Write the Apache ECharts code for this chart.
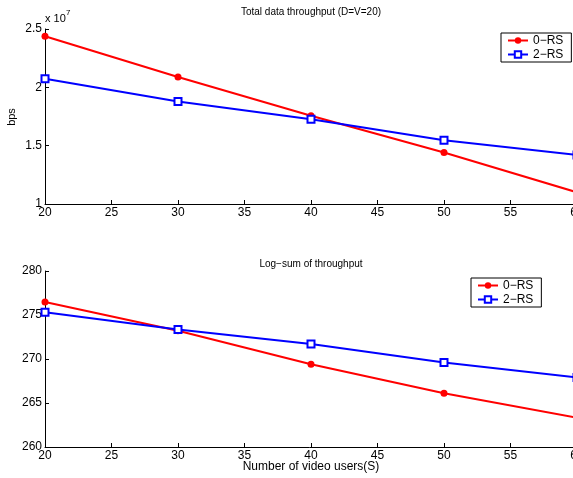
<!DOCTYPE html>
<html>
<head>
<meta charset="utf-8">
<script src="https://cdn.jsdelivr.net/npm/echarts@6/dist/echarts.min.js"></script>
<style>
html,body{margin:0;padding:0;background:#fff;}
#chart{width:573px;height:478px;}
</style>
</head>
<body>
<div id="chart"></div>
<script>
// Data
const users = [20, 30, 40, 50, 60];
// Total data throughput, in units of 1e7 bps
const throughput0RS = [2.438, 2.088, 1.757, 1.441, 1.100];
const throughput2RS = [2.073, 1.878, 1.726, 1.547, 1.421];
// Log-sum of throughput
const logsum0RS = [276.48, 273.20, 269.40, 266.10, 263.33];
const logsum2RS = [275.30, 273.34, 271.70, 269.60, 267.90];
const seriesNames = ['0\u2212RS', '2\u2212RS'];
const topTitle = 'Total data throughput (D=V=20)';
const bottomTitle = 'Log\u2212sum of throughput';
const xLabel = 'Number of video users(S)';
const yLabelTop = 'bps';

const FONT = 'Liberation Sans, Arial, Helvetica, sans-serif';
const pairs = (ys) => users.map((x, i) => [x, ys[i]]);

const chart = echarts.init(document.getElementById('chart'), null, {renderer: 'canvas'});

function xAxisCfg(gridIndex) {
  return {
    gridIndex, type: 'value', min: 20, max: 60, interval: 5,
    axisLine: {show: true, lineStyle: {color: '#000', width: 1}},
    axisTick: {show: true, inside: true, length: 4, lineStyle: {color: '#000'}},
    axisLabel: {color: '#000', fontSize: 12, fontFamily: FONT, margin: 3, hideOverlap: false},
    splitLine: {show: false}
  };
}
function yAxisCfg(gridIndex, min, max, interval) {
  return {
    gridIndex, type: 'value', min, max, interval,
    axisLine: {show: true, lineStyle: {color: '#000', width: 1}},
    axisTick: {show: true, inside: true, length: 4, lineStyle: {color: '#000'}},
    axisLabel: {color: '#000', fontSize: 12, fontFamily: FONT, margin: 3},
    splitLine: {show: false}
  };
}
function lineSeries(name, data, xi, color, symbol) {
  return {
    name, type: 'line', xAxisIndex: xi, yAxisIndex: xi, data,
    symbol, symbolSize: 7, showSymbol: true,
    lineStyle: {color, width: 2},
    itemStyle: {color, borderColor: color, borderWidth: symbol === 'emptyRect' ? 2 : 0},
    animation: false
  };
}
function legendCfg(left, top) {
  return {
    data: seriesNames, orient: 'vertical', left, top,
    backgroundColor: '#fff', borderColor: '#000', borderWidth: 1,
    padding: [1, 8, 1, 6], itemGap: 1, itemWidth: 20, itemHeight: 8,
    textStyle: {color: '#000', fontSize: 12, fontFamily: FONT, lineHeight: 13},
    selectedMode: false
  };
}

chart.setOption({
  animation: false,
  backgroundColor: '#fff',
  grid: [
    {left: 45, top: 29, width: 532, height: 175, containLabel: false, outerBoundsMode: 'none'},
    {left: 45, top: 271, width: 532, height: 176, containLabel: false, outerBoundsMode: 'none'}
  ],
  xAxis: [xAxisCfg(0), xAxisCfg(1)],
  yAxis: [yAxisCfg(0, 1, 2.5, 0.5), yAxisCfg(1, 260, 280, 5)],
  legend: [legendCfg(501, 33), legendCfg(471, 278)],
  series: [
    lineSeries(seriesNames[0], pairs(throughput0RS), 0, '#ff0000', 'circle'),
    lineSeries(seriesNames[1], pairs(throughput2RS), 0, '#0000ff', 'emptyRect'),
    lineSeries(seriesNames[0], pairs(logsum0RS), 1, '#ff0000', 'circle'),
    lineSeries(seriesNames[1], pairs(logsum2RS), 1, '#0000ff', 'emptyRect')
  ],
  graphic: [
    {type: 'text', x: 311, y: 12, style: {text: topTitle, fill: '#000', font: '10px ' + FONT, textAlign: 'center', textVerticalAlign: 'middle'}},
    {type: 'text', x: 311, y: 264, style: {text: bottomTitle, fill: '#000', font: '10px ' + FONT, textAlign: 'center', textVerticalAlign: 'middle'}},
    {type: 'text', x: 311, y: 467, style: {text: xLabel, fill: '#000', font: '12px ' + FONT, textAlign: 'center', textVerticalAlign: 'middle'}},
    {type: 'text', x: 12, y: 117, rotation: Math.PI / 2, style: {text: yLabelTop, fill: '#000', font: '11px ' + FONT, textAlign: 'center', textVerticalAlign: 'middle'}},
    {type: 'text', x: 45, y: 19, style: {text: 'x 10', fill: '#000', font: '11px ' + FONT, textAlign: 'left', textVerticalAlign: 'middle'}},
    {type: 'text', x: 66, y: 13, style: {text: '7', fill: '#000', font: '8px ' + FONT, textAlign: 'left', textVerticalAlign: 'middle'}}
  ]
});
</script>
</body>
</html>
